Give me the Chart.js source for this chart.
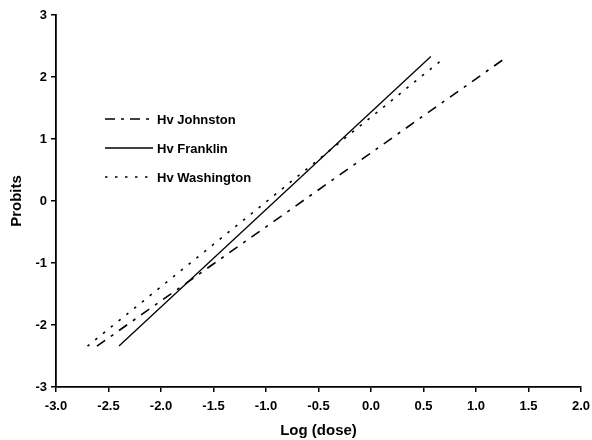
<!DOCTYPE html>
<html>
<head>
<meta charset="utf-8">
<script src="https://cdn.jsdelivr.net/npm/chart.js@4"></script>
<style>
  html, body { margin: 0; padding: 0; background: #fff; }
  #wrap { width: 592px; height: 440px; }
</style>
</head>
<body>
<div id="wrap"><canvas id="graph1" width="592" height="440"></canvas></div>
<script>
// fitted probit lines, end points
const seriesNames = ['Hv Johnston', 'Hv Franklin', 'Hv Washington'];
const johnstonX = [-2.61, 1.25];
const johnstonY = [-2.34, 2.27];
const franklinX = [-2.40, 0.57];
const franklinY = [-2.34, 2.33];
const washingtonX = [-2.70, 0.70];
const washingtonY = [-2.34, 2.31];
const xTicks = [-3.0, -2.5, -2.0, -1.5, -1.0, -0.5, 0.0, 0.5, 1.0, 1.5, 2.0];
const yTicks = [-3, -2, -1, 0, 1, 2, 3];

const FONT = '"Liberation Sans", Arial, sans-serif';

function pts(xs, ys) {
  return xs.map((x, i) => ({ x: x, y: ys[i] }));
}

// legend drawn inside the plot, top left
const insideLegend = {
  id: 'insideLegend',
  afterDatasetsDraw(chart) {
    const c = chart.ctx;
    const x0 = 105, x1 = 153, y0 = 119, rowH = 29;
    c.save();
    c.font = 'bold 13px ' + FONT;
    c.fillStyle = '#000';
    c.textBaseline = 'middle';
    chart.data.datasets.forEach((ds, i) => {
      const y = y0 + i * rowH;
      c.beginPath();
      c.setLineDash(ds.legendDash || []);
      c.lineWidth = ds.borderWidth;
      c.strokeStyle = '#000';
      c.moveTo(x0, y);
      c.lineTo(x1, y);
      c.stroke();
      c.setLineDash([]);
      c.fillText(ds.label, x1 + 4, y + 1);
    });
    c.restore();
  }
};

const ctx1 = document.getElementById('graph1').getContext('2d');
new Chart(ctx1, {
  type: 'scatter',
  data: {
    datasets: [{
      label: seriesNames[0],
      data: pts(johnstonX, johnstonY),
      showLine: true,
      borderColor: '#000',
      borderWidth: 1.6,
      borderDash: [10, 7, 3, 7],
      legendDash: [10, 6, 3, 6],
      pointRadius: 0
    }, {
      label: seriesNames[1],
      data: pts(franklinX, franklinY),
      showLine: true,
      borderColor: '#000',
      borderWidth: 1.3,
      pointRadius: 0
    }, {
      label: seriesNames[2],
      data: pts(washingtonX, washingtonY),
      showLine: true,
      borderColor: '#000',
      borderWidth: 1.6,
      borderDash: [2.5, 7.5],
      legendDash: [2.5, 7.5],
      pointRadius: 0
    }]
  },
  options: {
    responsive: false,
    animation: false,
    layout: { padding: { left: 0, right: 11, top: 15, bottom: 0 } },
    plugins: {
      legend: { display: false },
      tooltip: { enabled: false }
    },
    scales: {
      x: {
        type: 'linear',
        min: -3,
        max: 2,
        afterBuildTicks: (s) => { s.ticks = xTicks.map(v => ({ value: v })); },
        afterFit: (s) => { s.height = 53; s.paddingLeft = 0; s.paddingRight = 0; },
        ticks: {
          color: '#000',
          font: { family: FONT, size: 13, weight: 'bold' },
          padding: 7,
          maxRotation: 0,
          autoSkip: false,
          callback: (v) => Number(v).toFixed(1)
        },
        grid: { drawOnChartArea: false, drawTicks: true, tickLength: 5, color: '#000', lineWidth: 1.5 },
        border: { color: '#000', width: 1.8 },
        title: {
          display: true,
          text: 'Log (dose)',
          color: '#000',
          font: { family: FONT, size: 15, weight: 'bold' },
          padding: { top: 0, bottom: 0 }
        }
      },
      y: {
        type: 'linear',
        min: -3,
        max: 3,
        afterBuildTicks: (s) => { s.ticks = yTicks.map(v => ({ value: v })); },
        afterFit: (s) => { s.width = 56; s.paddingTop = 0; s.paddingBottom = 0; },
        ticks: {
          color: '#000',
          font: { family: FONT, size: 13, weight: 'bold' },
          padding: 4
        },
        grid: { drawOnChartArea: false, drawTicks: true, tickLength: 5, color: '#000', lineWidth: 1.5 },
        border: { color: '#000', width: 1.8 },
        title: {
          display: true,
          text: 'Probits',
          color: '#000',
          font: { family: FONT, size: 15, weight: 'bold' },
          padding: { top: 8, bottom: 0 }
        }
      }
    }
  },
  plugins: [insideLegend]
});
</script>
</body>
</html>
